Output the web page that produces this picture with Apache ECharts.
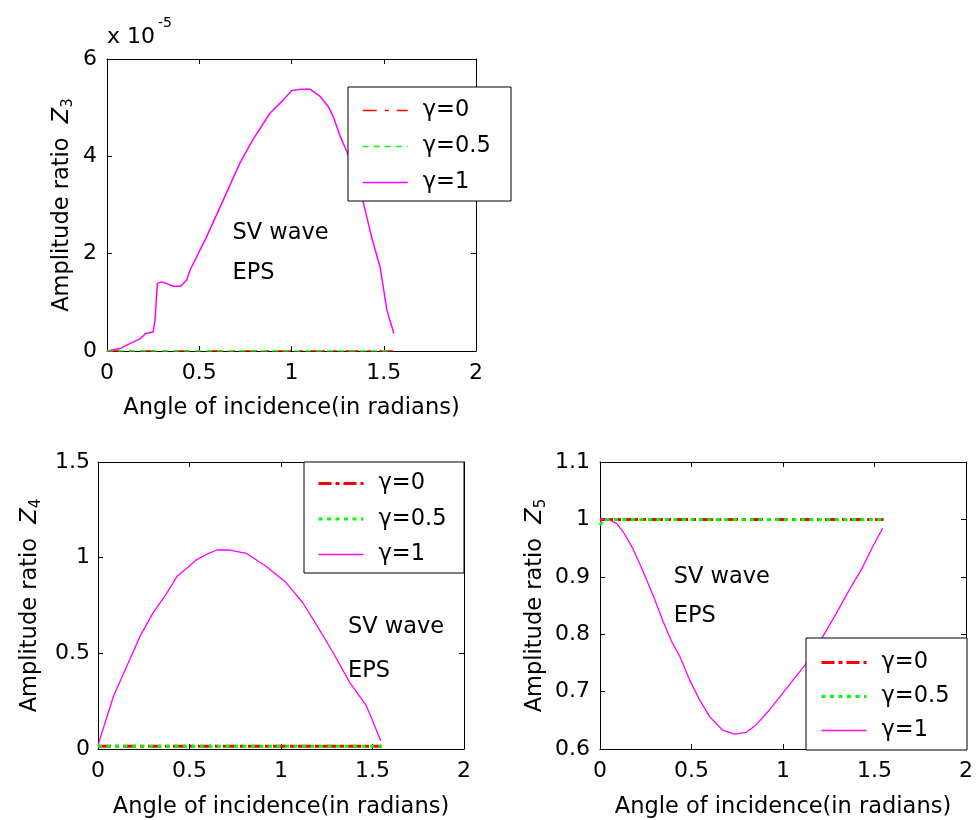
<!DOCTYPE html>
<html>
<head>
<meta charset="utf-8">
<script src="https://cdn.jsdelivr.net/npm/echarts@6/dist/echarts.min.js"></script>
<style>
  html, body { margin: 0; padding: 0; background: #fff; }
  #main { width: 976px; height: 820px; }
</style>
</head>
<body>
<div id="main"></div>
<script>
// ---- data ----
const legendNames = ['γ=0', 'γ=0.5', 'γ=1'];
const xTicks = [0, 0.5, 1, 1.5, 2];
const xTitle = 'Angle of incidence(in radians)';

// Z3 panel (values in units of 1e-5)
const z3Ticks = [0, 2, 4, 6];
const z3Exponent = '-5';
const z3FlatAngle = [0, 1.55];
const z3Gamma0 = [0, 0];
const z3Gamma05 = [0, 0];
const z3Angle = [0, 0.07, 0.107, 0.18, 0.21, 0.25, 0.26, 0.273, 0.297, 0.36, 0.40, 0.432, 0.45,
  0.54, 0.63, 0.72, 0.79, 0.884, 0.956, 1.00, 1.05, 1.10, 1.155, 1.20, 1.228, 1.264, 1.30,
  1.345, 1.387, 1.436, 1.48, 1.517, 1.555];
const z3Gamma1 = [0, 0.05, 0.12, 0.255, 0.36, 0.39, 0.63, 1.39, 1.42, 1.33, 1.33, 1.46, 1.66,
  2.35, 3.10, 3.86, 4.34, 4.89, 5.16, 5.35, 5.38, 5.38, 5.23, 5.02, 4.80, 4.41, 4.10,
  3.60, 3.09, 2.31, 1.73, 0.84, 0.36];

// Z4 panel
const z4Ticks = [0, 0.5, 1, 1.5];
const z4FlatAngle = [0, 1.55];
const z4Gamma0 = [0.015, 0.015];
const z4Gamma05 = [0.015, 0.015];
const z4Angle = [0, 0.013, 0.085, 0.158, 0.23, 0.30, 0.376, 0.43, 0.485, 0.54, 0.595, 0.65,
  0.72, 0.81, 0.92, 1.03, 1.12, 1.21, 1.285, 1.376, 1.467, 1.545];
const z4Gamma1 = [0.017, 0.06, 0.277, 0.434, 0.59, 0.71, 0.815, 0.90, 0.945, 0.99, 1.018, 1.04,
  1.04, 1.023, 0.954, 0.867, 0.763, 0.624, 0.503, 0.347, 0.225, 0.043];

// Z5 panel
const z5Ticks = [0.6, 0.7, 0.8, 0.9, 1, 1.1];
const z5FlatAngle = [0, 0.02, 1.55];
const z5Gamma0 = [1, 1, 1];
const z5Gamma05 = [0.99, 1, 1];
const z5Angle = [0, 0.045, 0.09, 0.127, 0.18, 0.236, 0.29, 0.345, 0.39, 0.435, 0.49, 0.545, 0.6,
  0.67, 0.735, 0.80, 0.853, 0.926, 0.998, 1.07, 1.12, 1.207, 1.289, 1.36, 1.434, 1.488, 1.545];
const z5Gamma1 = [1.0, 1.0, 0.993, 0.978, 0.949, 0.909, 0.868, 0.822, 0.788, 0.762, 0.72, 0.685, 0.656,
  0.633, 0.626, 0.629, 0.642, 0.668, 0.697, 0.726, 0.746, 0.79, 0.835, 0.876, 0.916, 0.951, 0.985];

// annotation text, anchored in data coordinates [angle, value]
const noteLines = ['SV wave', 'EPS'];
const z3NoteAt = [[0.68, 2.43], [0.68, 1.60]];
const z4NoteAt = [[1.366, 0.635], [1.366, 0.405]];
const z5NoteAt = [[0.403, 0.90], [0.403, 0.832]];

// ---- styling ----
const FONT = 'DejaVu Sans';
const FS = 22;      // tick labels
const FT = 22.5;    // titles, legend and notes
const RED = '#ff0000', GREEN = '#00ff00', MAGENTA = '#ff00ff';

const zip = (xs, ys) => xs.map((x, i) => [x, ys[i]]);
const tickRange = t => ({ min: t[0], max: t[t.length - 1], interval: +(t[1] - t[0]).toFixed(6) });

const panels = [
  { grid: { left: 107, top: 59, width: 369, height: 292 }, yTicks: z3Ticks, sub: '3', yGap: 31, xGap: 46, yMargin: 10,
    flatAngle: z3FlatAngle, g0: z3Gamma0, g05: z3Gamma05, angle: z3Angle, g1: z3Gamma1,
    thin: true, notes: z3NoteAt,
    legendBox: { x: 348, y: 87, w: 163, h: 114 }, legendPos: { left: 362, top: 99, gap: 13 } },
  { grid: { left: 98, top: 462, width: 366, height: 288 }, yTicks: z4Ticks, sub: '4', yGap: 54, xGap: 47, yMargin: 8,
    flatAngle: z4FlatAngle, g0: z4Gamma0, g05: z4Gamma05, angle: z4Angle, g1: z4Gamma1,
    thin: false, notes: z4NoteAt,
    legendBox: { x: 304, y: 462, w: 160, h: 111 }, legendPos: { left: 317, top: 472, gap: 12.5 } },
  { grid: { left: 600, top: 462, width: 367, height: 288 }, yTicks: z5Ticks, sub: '5', yGap: 51, xGap: 47, yMargin: 10,
    flatAngle: z5FlatAngle, g0: z5Gamma0, g05: z5Gamma05, angle: z5Angle, g1: z5Gamma1,
    thin: false, notes: z5NoteAt,
    legendBox: { x: 806, y: 638, w: 161, h: 112 }, legendPos: { left: 820, top: 651, gap: 11 } }
];

function lineStyles(thin) {
  return thin
    ? { g0: { color: RED, width: 1.5, type: [14, 8, 4, 8] },
        g05: { color: GREEN, width: 1.5, type: [6, 5] },
        g1: { color: MAGENTA, width: 1.5, type: 'solid' } }
    : { g0: { color: RED, width: 3, type: [13, 4, 4, 4] },
        g05: { color: GREEN, width: 3, type: [4, 4.5] },
        g1: { color: MAGENTA, width: 1.3, type: 'solid' } };
}

const option = {
  animation: false,
  backgroundColor: '#fff',
  grid: [], xAxis: [], yAxis: [], series: [], legend: []
};

const axisCommon = {
  axisLine: { show: true, onZero: false, lineStyle: { color: '#000', width: 1 } },
  axisTick: { show: true, inside: true, length: 5, lineStyle: { color: '#000', width: 1 } },
  splitLine: { show: false }
};

panels.forEach((p, i) => {
  option.grid.push(Object.assign({ containLabel: false }, p.grid));
  const xr = tickRange(xTicks), yr = tickRange(p.yTicks);
  // bottom / left axes with labels
  option.xAxis.push(Object.assign({
    type: 'value', gridIndex: i, position: 'bottom', ...xr,
    axisLabel: { color: '#000', fontFamily: FONT, fontSize: FS, margin: 11 },
    name: xTitle, nameLocation: 'middle', nameGap: p.xGap,
    nameTextStyle: { color: '#000', fontFamily: FONT, fontSize: FT }
  }, axisCommon));
  // top / right axes close the box with inward ticks
  option.xAxis.push(Object.assign({
    type: 'value', gridIndex: i, position: 'top', ...xr, axisLabel: { show: false }
  }, axisCommon));
  option.yAxis.push(Object.assign({
    type: 'value', gridIndex: i, position: 'left', ...yr,
    axisLabel: { color: '#000', fontFamily: FONT, fontSize: FS, margin: p.yMargin },
    name: '{t|Amplitude ratio  }{z|Z}{s|' + p.sub + '}',
    nameLocation: 'middle', nameRotate: 90, nameGap: p.yGap,
    nameTextStyle: {
      color: '#000',
      rich: {
        t: { fontFamily: FONT, fontSize: FT, color: '#000' },
        z: { fontFamily: FONT, fontSize: FT, fontStyle: 'italic', color: '#000' },
        s: { fontFamily: FONT, fontSize: 15, color: '#000', padding: [12, 0, 0, 0] }
      }
    }
  }, axisCommon));
  option.yAxis.push(Object.assign({
    type: 'value', gridIndex: i, position: 'right', ...yr, axisLabel: { show: false }
  }, axisCommon));

  const ls = lineStyles(p.thin);
  const base = { type: 'line', xAxisIndex: 2 * i, yAxisIndex: 2 * i, symbol: 'none', showSymbol: false, z: 3 };
  option.series.push(Object.assign({}, base, { name: legendNames[0], data: zip(p.flatAngle, p.g0), lineStyle: ls.g0, itemStyle: { color: RED } }));
  option.series.push(Object.assign({}, base, { name: legendNames[1], data: zip(p.flatAngle, p.g05), lineStyle: ls.g05, itemStyle: { color: GREEN }, z: 4 }));
  option.series.push(Object.assign({}, base, { name: legendNames[2], data: zip(p.angle, p.g1), lineStyle: ls.g1, itemStyle: { color: MAGENTA } }));

  option.legend.push({
    orient: 'vertical', left: p.legendPos.left, top: p.legendPos.top, padding: 0,
    itemWidth: 45, itemHeight: 14, itemGap: p.legendPos.gap, z: 20, selectedMode: false,
    textStyle: { color: '#000', fontFamily: FONT, fontSize: FT, padding: [0, 0, 0, 10] },
    data: [
      { name: legendNames[0], lineStyle: ls.g0, itemStyle: { opacity: 0 } },
      { name: legendNames[1], lineStyle: ls.g05, itemStyle: { opacity: 0 } },
      { name: legendNames[2], lineStyle: ls.g1, itemStyle: { opacity: 0 } }
    ]
  });
});

const chart = echarts.init(document.getElementById('main'), null, { renderer: 'canvas' });
chart.setOption(option);

// legend frames, annotations and the axis multiplier
const graphics = [];
panels.forEach((p, i) => {
  const b = p.legendBox;
  graphics.push({
    type: 'rect', z: 10, shape: { x: b.x, y: b.y, width: b.w, height: b.h },
    style: { fill: '#fff', stroke: '#000', lineWidth: 1 }
  });
  p.notes.forEach((pt, k) => {
    const px = chart.convertToPixel({ gridIndex: i }, pt);
    graphics.push({
      type: 'text', z: 12, x: px[0], y: px[1],
      style: { text: noteLines[k], fill: '#000', font: FT + 'px "' + FONT + '"', align: 'left', verticalAlign: 'middle' }
    });
  });
});
const corner = chart.convertToPixel({ gridIndex: 0 }, [xTicks[0], z3Ticks[z3Ticks.length - 1]]);
graphics.push({
  type: 'text', z: 12, x: corner[0], y: corner[1] - 22,
  style: { text: 'x 10', fill: '#000', font: FS + 'px "' + FONT + '"', align: 'left', verticalAlign: 'middle' }
});
graphics.push({
  type: 'text', z: 12, x: corner[0] + 51, y: corner[1] - 36,
  style: { text: z3Exponent, fill: '#000', font: '14px "' + FONT + '"', align: 'left', verticalAlign: 'middle' }
});
chart.setOption({ graphic: graphics });
</script>
</body>
</html>
